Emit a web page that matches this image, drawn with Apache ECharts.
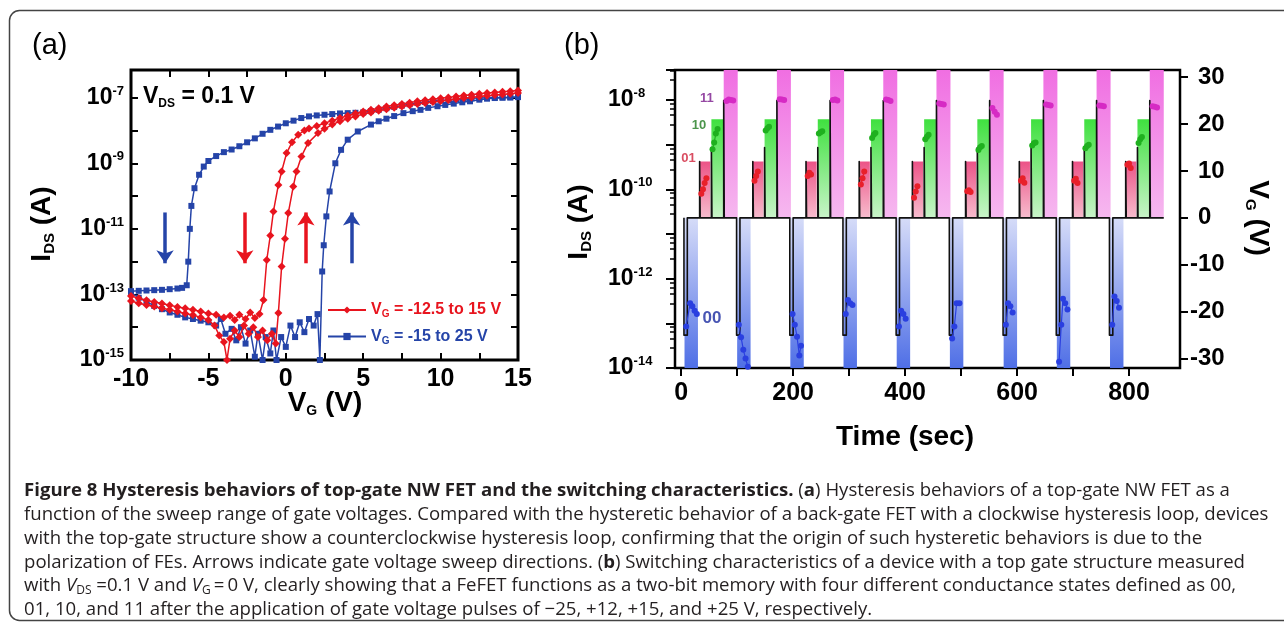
<!DOCTYPE html>
<html><head><meta charset="utf-8">
<script src="https://cdn.jsdelivr.net/npm/echarts@6/dist/echarts.min.js"></script>
<style>html,body{margin:0;padding:0;background:#fff;}#c{width:1284px;height:624px;}</style>
</head><body><div id="c"></div>
<script>
// ---------------- Panel (a): I_DS vs V_G, values as [V_G (V), log10 I_DS (A)] ----------------
const aBlueRev = [[15,-6.98],[14.5,-6.99],[14,-6.99],[13.5,-7.0],[13,-7.0],[12.5,-7.01],[12,-7.02],[11.5,-7.04],[11,-7.05],[10.5,-7.07],[10,-7.08],[9.5,-7.1],[9,-7.13],[8.5,-7.16],[8,-7.2],[7.5,-7.24],[7,-7.28],[6.5,-7.32],[6,-7.37],[5.5,-7.41],[5,-7.45],[4.5,-7.46],[4,-7.47],[3.5,-7.48],[3,-7.5],[2.5,-7.52],[2,-7.54],[1.5,-7.57],[1,-7.62],[0.5,-7.7],[0,-7.78],[-0.5,-7.88],[-1,-7.98],[-1.5,-8.1],[-2,-8.24],[-2.5,-8.36],[-3,-8.48],[-3.5,-8.58],[-4,-8.66],[-4.5,-8.78],[-5,-8.93],[-5.3,-9.1],[-5.6,-9.35],[-5.9,-9.76],[-6.1,-10.3],[-6.2,-11.0],[-6.3,-12.0],[-6.4,-12.72],[-6.7,-12.8],[-7,-12.82],[-7.5,-12.84],[-8,-12.86],[-8.5,-12.87],[-9,-12.88],[-9.5,-12.89],[-10,-12.9]];
const aBlueFwd = [[-10,-12.95],[-9.5,-13.1],[-9,-13.22],[-8.5,-13.35],[-8,-13.45],[-7.5,-13.55],[-7,-13.62],[-6.5,-13.7],[-6,-13.75],[-5.5,-13.8],[-5,-13.85],[-4.5,-13.95],[-4.2,-13.75],[-3.9,-14.2],[-3.5,-14.05],[-3.2,-14.4],[-2.9,-14.0],[-2.6,-14.5],[-2.3,-14.1],[-2.0,-14.9],[-1.8,-14.2],[-1.5,-15.0],[-1.3,-14.3],[-1.0,-14.8],[-0.8,-14.1],[-0.6,-15.0],[-0.3,-14.3],[0,-14.6],[0.3,-13.95],[0.6,-14.3],[0.9,-13.85],[1.2,-14.15],[1.5,-13.75],[1.8,-13.95],[2.05,-13.6],[2.2,-15.0],[2.35,-12.3],[2.45,-11.5],[2.62,-10.62],[2.83,-9.86],[3.2,-9.0],[3.57,-8.59],[4.0,-8.28],[4.65,-8.03],[5.5,-7.82],[6,-7.72],[6.5,-7.64],[7,-7.56],[7.6,-7.47],[8.2,-7.41],[8.7,-7.37],[9.2,-7.31],[9.8,-7.26],[10.3,-7.22],[10.85,-7.18],[11.4,-7.14],[11.9,-7.11],[12.5,-7.06],[13,-7.03],[13.5,-7.01],[14,-7.0],[14.5,-6.99],[15,-6.98]];
const aRedRev = [[15,-6.78],[14.5,-6.8],[14,-6.82],[13.5,-6.84],[13,-6.86],[12.5,-6.88],[12,-6.91],[11.5,-6.93],[11,-6.96],[10.5,-6.99],[10,-7.02],[9.5,-7.05],[9,-7.08],[8.5,-7.11],[8,-7.15],[7.5,-7.19],[7,-7.23],[6.5,-7.27],[6,-7.32],[5.5,-7.37],[5,-7.42],[4.5,-7.48],[4,-7.55],[3.5,-7.62],[3,-7.7],[2.5,-7.78],[2,-7.86],[1.5,-7.94],[1.2,-8.0],[0.8,-8.13],[0.4,-8.36],[0.05,-8.69],[-0.27,-9.25],[-0.48,-9.66],[-0.8,-10.47],[-1.0,-11.2],[-1.23,-11.95],[-1.44,-13.17],[-1.7,-13.6],[-2,-13.72],[-2.3,-13.55],[-2.6,-13.75],[-3,-13.62],[-3.3,-13.78],[-3.6,-13.65],[-4,-13.7],[-4.5,-13.62],[-5,-13.58],[-5.5,-13.52],[-6,-13.47],[-6.5,-13.42],[-7,-13.38],[-7.5,-13.33],[-8,-13.28],[-8.5,-13.23],[-9,-13.18],[-9.5,-13.12],[-10,-13.05]];
const aRedFwd = [[-10,-13.2],[-9.5,-13.27],[-9,-13.32],[-8.5,-13.37],[-8,-13.42],[-7.5,-13.47],[-7,-13.52],[-6.5,-13.58],[-6,-13.63],[-5.5,-13.7],[-5,-13.78],[-4.6,-13.95],[-4.3,-14.25],[-4.0,-14.45],[-3.8,-15.0],[-3.6,-14.35],[-3.3,-14.1],[-3.0,-14.3],[-2.7,-13.95],[-2.4,-14.2],[-2.1,-14.0],[-1.8,-14.3],[-1.5,-14.1],[-1.2,-14.4],[-0.9,-14.2],[-0.65,-14.5],[-0.48,-13.57],[-0.27,-12.15],[-0.05,-11.3],[0.16,-10.52],[0.48,-9.71],[0.69,-9.25],[1.01,-8.79],[1.44,-8.38],[2.08,-8.08],[2.5,-7.95],[3,-7.82],[3.5,-7.72],[4,-7.64],[4.5,-7.57],[5,-7.5],[5.5,-7.45],[6,-7.4],[6.5,-7.35],[7,-7.31],[7.5,-7.27],[8,-7.23],[8.5,-7.19],[9,-7.16],[9.5,-7.13],[10,-7.1],[10.5,-7.07],[11,-7.04],[11.5,-7.01],[12,-6.99],[12.5,-6.96],[13,-6.94],[13.5,-6.92],[14,-6.9],[14.5,-6.88],[15,-6.86]];
// sweep-direction arrows: V_G position, start and end log10 I
const arrowV = [-7.8, -2.65, 1.3, 4.25];
const arrowFrom = [-10.5, -10.5, -12.05, -12.05];
const arrowTo = [-12.05, -12.05, -10.5, -10.5];
const xTicksA = [-10, -5, 0, 5, 10, 15];

// ---------------- Panel (b): switching, time in s ----------------
const region00 = [[6,30],[100,124],[195,219],[290,314],[385,409],[480,504],[576,600],[671,695],[766,790]];
const region01 = [[33,52],[128,147],[223,242],[318,337],[413,432],[508,527],[604,623],[699,718],[794,813]];
const region10 = [[54,75],[149,170],[244,265],[339,360],[434,455],[529,550],[625,646],[720,741],[815,836]];
const region11 = [[76,101],[171,196],[266,291],[361,386],[456,481],[551,576],[647,672],[742,767],[837,862]];
const negPulse = [[5,11],[99,105],[194,200],[289,295],[384,390],[479,485],[575,581],[670,676],[765,771]];
const pulseLevels = [-25, 12, 15, 25];   // V_G pulse for 00, 01, 10, 11
const regionTops = [-32, 12, 21, 31.5];   // shaded window extents in V
const waveEnd = 862;
// current read-outs per cycle [t, log10 I]
const pts00 = [[[9,-13.07],[16,-12.55],[20,-12.62],[24,-12.72],[28,-12.79]],[[103,-13.03],[107,-13.31],[111,-13.59],[115,-13.79],[119,-13.97]],[[199,-12.79],[203,-13.03],[207,-13.3],[211,-13.72],[214,-13.5]],[[294,-12.79],[298,-12.48],[302,-12.55],[306,-12.59]],[[389,-13.07],[393,-12.72],[397,-12.79],[401,-12.9]],[[484,-13.34],[488,-13.07],[492,-12.55],[497,-12.55]],[[580,-13.03],[584,-12.55],[588,-12.62],[592,-12.76]],[[675,-13.86],[679,-13.03],[682,-12.45],[686,-12.55],[690,-12.69]],[[770,-13.03],[774,-12.4],[778,-12.5],[782,-12.65]]];
const pts01 = [[[36,-10.1],[39,-10.0],[42,-9.86],[45,-9.75]],[[131,-9.81],[134,-9.7],[137,-9.6]],[[226,-9.7],[229,-9.63],[232,-9.67]],[[321,-9.89],[324,-9.75],[327,-9.6]],[[416,-10.19],[419,-10.05],[422,-9.93]],[[511,-10.04],[514,-10.02],[517,-10.06]],[[607,-9.81],[610,-9.75],[613,-9.85]],[[702,-9.81],[705,-9.76],[708,-9.86]],[[797,-9.45],[800,-9.42],[803,-9.52]]];
const pts10 = [[[56,-9.1],[59,-8.95],[62,-8.75],[65,-8.65]],[[151,-8.68],[154,-8.63],[157,-8.6]],[[246,-8.75],[249,-8.72],[252,-8.7]],[[341,-8.85],[344,-8.78],[347,-8.74]],[[436,-8.88],[439,-8.82],[442,-8.78]],[[531,-9.12],[534,-9.06],[537,-9.03]],[[627,-9.02],[630,-8.97],[633,-8.95]],[[722,-9.08],[725,-9.03],[728,-9.0]],[[817,-8.96],[820,-8.88],[823,-8.83]]];
const pts11 = [[[81,-8.02],[85,-7.99],[89,-8.0],[93,-8.01]],[[176,-7.98],[180,-7.99],[184,-8.0]],[[271,-8.0],[275,-7.99],[279,-8.01]],[[366,-7.99],[370,-8.0],[374,-8.02]],[[461,-8.08],[465,-8.09],[469,-8.1]],[[556,-8.18],[560,-8.26],[564,-8.33]],[[652,-8.1],[656,-8.11],[660,-8.12]],[[747,-8.12],[751,-8.13],[755,-8.14]],[[842,-8.14],[846,-8.15],[850,-8.17]]];
const stateNames = ['00','01','10','11'];
const stateLabelPos = [[55,-12.88],[13,-9.3],[32,-8.56],[46,-7.96]];
const xTicksB = [0,100,200,300,400,500,600,700,800];
const xLabelsB = [0,200,400,600,800];
const vTicksB = [-30,-20,-10,0,10,20,30];

// ---------------- styling ----------------
const FONT = "'Liberation Sans',Arial,sans-serif";
const CAP = "'Open Sans','Noto Sans',sans-serif";
const RED = '#e8141e', BLUE = '#2544a8';
const NAME_RED = 'VG = -12.5 to 15 V', NAME_BLUE = 'VG = -15 to 25 V';
const P10 = v => Math.pow(10, v);
const toXY = arr => arr.map(p => [p[0], P10(p[1])]);
function flat(cycles){ const out=[]; cycles.forEach(c=>{ c.forEach(p=>out.push([p[0],P10(p[1])])); out.push([c[c.length-1][0]+0.5,'-']); }); return out; }
function supFmt(parity){ return function(v){ const l=Math.log10(v), e=Math.round(l); if(Math.abs(l-e)>0.02) return ''; if(Math.abs(e)%2!==parity) return ''; return '{b|10}{s|'+e+'}'; }; }
const supRich = {b:{fontSize:23,fontWeight:'bold',fontFamily:FONT,color:'#000',lineHeight:26},s:{fontSize:13,fontWeight:'bold',fontFamily:FONT,color:'#000',verticalAlign:'top',lineHeight:12}};

// waveform of V_G
const wave = [];
for (let k=0;k<negPulse.length;k++){
  wave.push([negPulse[k][0],0],[negPulse[k][0],pulseLevels[0]],[negPulse[k][1],pulseLevels[0]],[negPulse[k][1],0]);
  [region01,region10,region11].forEach((reg,j)=>{ const t=reg[k][0]; wave.push([t,0],[t,pulseLevels[j+1]],[t+1,pulseLevels[j+1]],[t+1,0]); });
}
wave.push([waveEnd,0]);

const grad = (c0,c1)=>({type:'linear',x:0,y:0,x2:0,y2:1,colorStops:[{offset:0,color:c0},{offset:1,color:c1}]});
const regionStyles = [grad('#d6dcf8','#4f6fe6'), grad('#ec5387','#f7bccd'), grad('#3fe03f','#c9f4c9'), grad('#f06ee2','#f6b8ef')];
const areas = [];
[region00,region01,region10,region11].forEach((reg,j)=>{ reg.forEach(r=>{ areas.push([{xAxis:r[0],yAxis:0,itemStyle:{color:regionStyles[j]}},{xAxis:r[1],yAxis:regionTops[j]}]); }); });

const stateColors = ['#2a3fe0','#e8202a','#1fb01f','#d62ac4'];
const labelColors = ['#1a2aa0','#d0203a','#1e7a1e','#7a1a8c'];
const labelSizes = [17,13,13,13];

const capLines = [
 '{b|Figure 8 Hysteresis behaviors of top-gate NW FET and the switching characteristics.} ({b|a}) Hysteresis behaviors of a top-gate NW FET as a',
 'function of the sweep range of gate voltages. Compared with the hysteretic behavior of a back-gate FET with a clockwise hysteresis loop, devices',
 'with the top-gate structure show a counterclockwise hysteresis loop, confirming that the origin of such hysteretic behaviors is due to the',
 'polarization of FEs. Arrows indicate gate voltage sweep directions. ({b|b}) Switching characteristics of a device with a top gate structure measured',
 'with {i|V}{sub|DS} =0.1 V and {i|V}{sub|G}\u2009=\u20090 V, clearly showing that a FeFET functions as a two-bit memory with four different conductance states defined as 00,',
 '01, 10, and 11 after the application of gate voltage pulses of \u221225, +12, +15, and +25 V, respectively.'
];
const CAPSIZE = 18.6;
const capRich = {b:{fontFamily:CAP,fontSize:CAPSIZE,fontWeight:'bold',fill:'#231f20'},i:{fontFamily:CAP,fontSize:CAPSIZE,fontStyle:'italic',fill:'#231f20'},sub:{fontFamily:CAP,fontSize:12,fill:'#231f20',padding:[9,0,0,0]}};

const chart = echarts.init(document.getElementById('c'), null, {width:1284, height:624});
const tickStyle = {color:'#000', width:2};
const noLine = {show:false, onZero:false};
const titleRich = (fs, ds)=>({m:{fontSize:fs,fontWeight:'bold',fontFamily:FONT,fill:'#000',lineHeight:fs+3},d:{fontSize:ds,fontWeight:'bold',fontFamily:FONT,fill:'#000',verticalAlign:'bottom',lineHeight:ds}});
const legendText = c => ({color:c, fontSize:16, fontWeight:'bold', fontFamily:FONT, rich:{g:{color:c, fontSize:10, fontWeight:'bold', fontFamily:FONT, padding:[9,0,0,0]}}});
const option = {
  backgroundColor:'#fff',
  animation:false,
  grid:[
    {left:131, top:70, width:387, height:290, show:true, borderColor:'#000', borderWidth:3, backgroundColor:'#fff'},
    {left:675, top:70, width:505, height:298, show:true, borderColor:'#000', borderWidth:2.5, backgroundColor:'#fff'}
  ],
  xAxis:[
    {gridIndex:0, type:'value', min:-10, max:15, interval:2.5, position:'bottom', axisLine:noLine, splitLine:{show:false},
     axisTick:{inside:true, length:7, lineStyle:tickStyle},
     axisLabel:{margin:7, fontSize:25, fontWeight:'bold', fontFamily:FONT, color:'#000', formatter:v=> xTicksA.indexOf(v)>=0 ? String(v) : ''}},
    {gridIndex:0, type:'value', min:-10, max:15, interval:2.5, position:'top', axisLine:noLine, splitLine:{show:false},
     axisTick:{inside:true, length:7, lineStyle:tickStyle}, axisLabel:{show:false}},
    {gridIndex:1, type:'value', min:-11, max:891, position:'bottom', axisLine:noLine, splitLine:{show:false},
     axisTick:{inside:false, length:8, lineStyle:tickStyle, customValues:xTicksB},
     axisLabel:{margin:13, fontSize:25, fontWeight:'bold', fontFamily:FONT, color:'#000', customValues:xLabelsB}}
  ],
  yAxis:[
    {gridIndex:0, type:'log', min:1e-15, max:7e-7, splitNumber:9, position:'left', axisLine:noLine, splitLine:{show:false},
     axisTick:{inside:true, length:7, lineStyle:tickStyle},
     axisLabel:{margin:7, formatter:supFmt(1), rich:supRich}},
    {gridIndex:0, type:'log', min:1e-15, max:7e-7, splitNumber:9, position:'right', axisLine:noLine, splitLine:{show:false},
     axisTick:{inside:true, length:7, lineStyle:tickStyle}, axisLabel:{show:false}},
    {gridIndex:1, type:'log', min:1e-14, max:4.7e-8, splitNumber:7, position:'left', axisLine:noLine, splitLine:{show:false},
     axisTick:{inside:false, length:9, lineStyle:tickStyle}, minorTick:{show:true, splitNumber:5, length:5, lineStyle:{color:'#000',width:1.5}},
     axisLabel:{margin:67, align:'left', formatter:supFmt(0), rich:supRich}},
    {gridIndex:1, type:'value', min:-32, max:31.5, position:'right', axisLine:noLine, splitLine:{show:false},
     axisTick:{inside:false, length:8, lineStyle:tickStyle, customValues:vTicksB},
     axisLabel:{margin:10, customValues:vTicksB, formatter:v=> v<0 ? '{t|'+v+'}' : '{p|}{t|'+v+'}',
       rich:{t:{fontSize:24,fontWeight:'bold',fontFamily:FONT,color:'#000'}, p:{width:8}}}}
  ],
  legend:{
    left:322, top:297, orient:'vertical', itemGap:9, itemWidth:38, itemHeight:9,
    data:[{name:NAME_RED, textStyle:legendText(RED)},{name:NAME_BLUE, textStyle:legendText(BLUE)}],
    formatter: n => n.replace('VG','V{g|G}'),
    textStyle:{fontSize:16, fontWeight:'bold', fontFamily:FONT}
  },
  series:[
    {name:NAME_BLUE, type:'line', xAxisIndex:0, yAxisIndex:0, data:toXY(aBlueRev), symbol:'rect', symbolSize:6, lineStyle:{width:1.5,color:BLUE}, itemStyle:{color:BLUE}, z:3},
    {name:NAME_BLUE, type:'line', xAxisIndex:0, yAxisIndex:0, data:toXY(aBlueFwd), symbol:'rect', symbolSize:6, lineStyle:{width:1.5,color:BLUE}, itemStyle:{color:BLUE}, z:3},
    {name:NAME_RED, type:'line', xAxisIndex:0, yAxisIndex:0, data:toXY(aRedFwd), symbol:'diamond', symbolSize:8, lineStyle:{width:1.5,color:RED}, itemStyle:{color:RED}, z:4},
    {name:NAME_RED, type:'line', xAxisIndex:0, yAxisIndex:0, data:toXY(aRedRev), symbol:'diamond', symbolSize:8, lineStyle:{width:1.5,color:RED}, itemStyle:{color:RED}, z:4},
    {type:'lines', coordinateSystem:'cartesian2d', xAxisIndex:0, yAxisIndex:0, symbol:['none','arrow'], symbolSize:13, silent:true, z:5,
     data: arrowV.map((v,i)=>({coords:[[v,P10(arrowFrom[i])],[v,P10(arrowTo[i])]], lineStyle:{color: i===0||i===3 ? BLUE : RED, width:3.5, opacity:1}}))},
    {name:'VG', type:'line', xAxisIndex:2, yAxisIndex:3, data:wave, symbol:'none', lineStyle:{color:'#111', width:1.6, join:'round'}, z:3, silent:true,
     markArea:{silent:true, label:{show:false}, data:areas}},
    ...[pts00,pts01,pts10,pts11].map((c,j)=>({name:'I'+stateNames[j], type:'line', xAxisIndex:2, yAxisIndex:2, data:flat(c), connectNulls:false,
      symbol:'circle', symbolSize:6, lineStyle:{width:1.2,color:stateColors[j]}, itemStyle:{color:stateColors[j]}, z:5})),
    {type:'scatter', xAxisIndex:2, yAxisIndex:2, symbolSize:1, itemStyle:{color:'rgba(0,0,0,0)'}, z:6, silent:true,
     data: stateLabelPos.map((p,j)=>({value:[p[0],P10(p[1])], name:stateNames[j],
       label:{show:true, position:'inside', formatter:'{b}', color:labelColors[j], fontSize:labelSizes[j], fontWeight:'bold', fontFamily:FONT}}))}
  ],
  graphic:[
    {type:'rect', silent:true, z:-10, shape:{x:9.5,y:10.5,width:1320,height:610,r:10}, style:{fill:'none', stroke:'#444', lineWidth:1.5}},
    {type:'text', x:32, y:46, style:{text:'(a)', fontSize:29, fontFamily:FONT, fill:'#000', verticalAlign:'middle'}},
    {type:'text', x:564, y:46, style:{text:'(b)', fontSize:29, fontFamily:FONT, fill:'#000', verticalAlign:'middle'}},
    {type:'text', x:143, y:97, style:{text:'{m|V}{d|DS}{m| = 0.1 V}', align:'left', verticalAlign:'middle', rich:titleRich(23,12)}},
    {type:'text', x:42, y:224, rotation:Math.PI/2, style:{text:'{m|I}{d|DS}{m| (A)}', align:'center', verticalAlign:'middle', rich:titleRich(28,15)}},
    {type:'text', x:579, y:222, rotation:Math.PI/2, style:{text:'{m|I}{d|DS}{m| (A)}', align:'center', verticalAlign:'middle', rich:titleRich(28,15)}},
    {type:'text', x:1258, y:218, rotation:-Math.PI/2, style:{text:'{m|V}{d|G}{m| (V)}', align:'center', verticalAlign:'middle', rich:titleRich(28,15)}},
    {type:'text', x:325, y:403, style:{text:'{m|V}{d|G}{m| (V)}', align:'center', verticalAlign:'middle', rich:titleRich(28,14)}},
    {type:'text', x:905, y:437, style:{text:'Time (sec)', align:'center', verticalAlign:'middle', fontSize:28, fontWeight:'bold', fontFamily:FONT, fill:'#000'}},
    ...capLines.map((t,i)=>({type:'text', x:24, y:491+23.8*i, style:{text:t, rich:capRich, fontFamily:CAP, fontSize:CAPSIZE, fill:'#231f20', align:'left', verticalAlign:'middle'}}))
  ]
};
chart.setOption(option);
</script></body></html>
